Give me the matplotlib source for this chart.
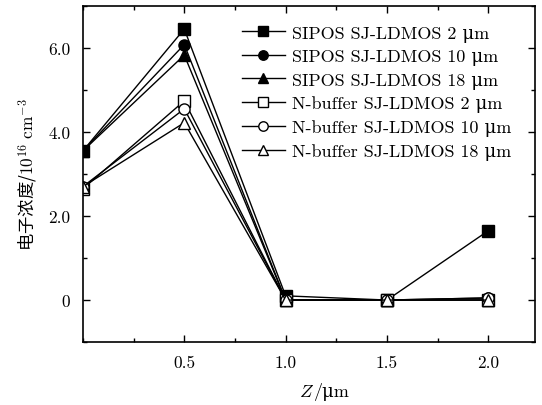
import numpy as np
import matplotlib
matplotlib.use("Agg")
import matplotlib.pyplot as plt
from matplotlib.ticker import MultipleLocator, FixedLocator, FuncFormatter
from matplotlib.offsetbox import TextArea, HPacker, AnchoredOffsetbox

plt.rcParams['font.family'] = ['cmr10', 'DejaVu Serif']
plt.rcParams['mathtext.fontset'] = 'cm'
plt.rcParams['axes.unicode_minus'] = False

z = [0.0, 0.5, 1.0, 1.5, 2.0]
sipos_2 = [3.55, 6.45, 0.10, 0.0, 1.65]
sipos_10 = [3.55, 6.08, 0.0, 0.0, 0.05]
sipos_18 = [3.55, 5.83, 0.0, 0.0, 0.0]
nbuf_2 = [2.65, 4.74, 0.0, 0.0, 0.0]
nbuf_10 = [2.70, 4.55, 0.0, 0.0, 0.05]
nbuf_18 = [2.70, 4.22, 0.0, 0.0, 0.0]

um = "\u03bcm"
labels = ["SIPOS SJ-LDMOS 2 " + um, "SIPOS SJ-LDMOS 10 " + um, "SIPOS SJ-LDMOS 18 " + um,
          "N-buffer SJ-LDMOS 2 " + um, "N-buffer SJ-LDMOS 10 " + um, "N-buffer SJ-LDMOS 18 " + um]
series = [sipos_2, sipos_10, sipos_18, nbuf_2, nbuf_10, nbuf_18]
markers = ['s', 'o', '^', 's', 'o', '^']
fills = ['k', 'k', 'k', 'w', 'w', 'w']

fig = plt.figure(figsize=(5.42, 4.06), dpi=100)
ax = fig.add_axes([0.153, 0.155, 0.834, 0.828])

for y, m, fc, lab in zip(series, markers, fills, labels):
    ax.plot(z, y, color='k', lw=1.0, marker=m, markersize=8,
            markerfacecolor=fc, markeredgecolor='k', markeredgewidth=1.0, label=lab)

ax.set_xlim(0, 2.23)
ax.set_ylim(-1, 7)
ax.xaxis.set_major_locator(FixedLocator([0.5, 1.0, 1.5, 2.0]))
ax.xaxis.set_minor_locator(MultipleLocator(0.25))
ax.yaxis.set_major_locator(FixedLocator([0, 2, 4, 6]))
ax.yaxis.set_minor_locator(MultipleLocator(1))
ax.yaxis.set_major_formatter(FuncFormatter(lambda v, p: "0" if v == 0 else "%.1f" % v))
ax.xaxis.set_major_formatter(FuncFormatter(lambda v, p: "%.1f" % v))
ax.tick_params(which='both', direction='in', top=True, right=True, labelsize=12.5, pad=9)
ax.tick_params(which='major', length=5, width=1)
ax.tick_params(which='minor', length=3, width=1)
for s in ax.spines.values():
    s.set_linewidth(1.2)

# x label: italic Z + "/μm"
xl = HPacker(children=[TextArea("Z", textprops=dict(family='cmmi10', size=13)),
                       TextArea("/" + um, textprops=dict(size=13))],
             align="baseline", pad=0, sep=1)
box = AnchoredOffsetbox(loc='center', child=xl, frameon=False, pad=0, borderpad=0,
                        bbox_to_anchor=(325 / 542, 1 - 392 / 406),
                        bbox_transform=fig.transFigure)
fig.add_artist(box)

ax.set_ylabel("电子浓度/$10^{16}\\ \\mathrm{cm}^{-3}$", fontsize=12.5, labelpad=6,
              family=['Noto Sans CJK SC'])

ax.legend(loc='upper right', bbox_to_anchor=(0.972, 0.975), frameon=False,
          fontsize=13, handlelength=2.4, handletextpad=0.4, labelspacing=0.38,
          markerscale=0.85, borderaxespad=0.2)

fig.savefig("out.png", dpi=100)
